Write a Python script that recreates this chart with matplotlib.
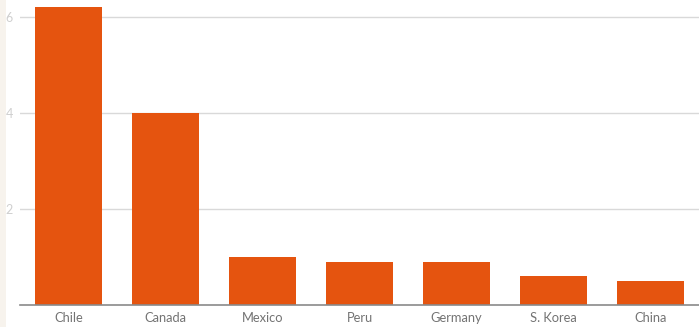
import matplotlib
matplotlib.use("Agg")
import matplotlib.pyplot as plt
from matplotlib.patches import Rectangle

categories = ["Chile", "Canada", "Mexico", "Peru", "Germany", "S. Korea", "China"]
values = [6.2, 4.0, 1.0, 0.9, 0.9, 0.6, 0.5]
yticks = [2, 4, 6]

plt.rcParams['font.family'] = ['Lato', 'DejaVu Sans']

W, H = 699, 327
fig = plt.figure(figsize=(W / 100, H / 100), dpi=100)
fig.patch.set_facecolor("white")
fig.add_artist(Rectangle((0, 0), 6 / W, 1, transform=fig.transFigure,
                         facecolor="#f7f3ed", edgecolor="none", zorder=0))

ax = fig.add_axes([20 / W, 22 / H, 1 - 20 / W, 1 - 22 / H])
ax.set_facecolor("none")
x = range(len(categories))
ax.bar(x, values, width=0.69, color="#e5540f", zorder=3)
ax.set_xlim(-0.5, len(categories) - 0.5)
ax.set_ylim(0, 6.35)
ax.set_yticks(yticks)
ax.set_yticklabels([str(t) for t in yticks])
ax.set_xticks(list(x))
ax.set_xticklabels(categories)
ax.grid(axis="y", color="#d9d9d9", linewidth=1, zorder=0)
for s in ["top", "right", "left"]:
    ax.spines[s].set_visible(False)
ax.spines["bottom"].set_color("#8a8a8a")
ax.spines["bottom"].set_linewidth(1.2)
ax.spines["bottom"].set_zorder(4)
ax.tick_params(axis="y", length=0, pad=5, labelsize=9, labelcolor="#cfcfcf")
ax.tick_params(axis="x", length=0, pad=5, labelsize=9.3, labelcolor="#737373")

fig.savefig("out.png", dpi=100)
